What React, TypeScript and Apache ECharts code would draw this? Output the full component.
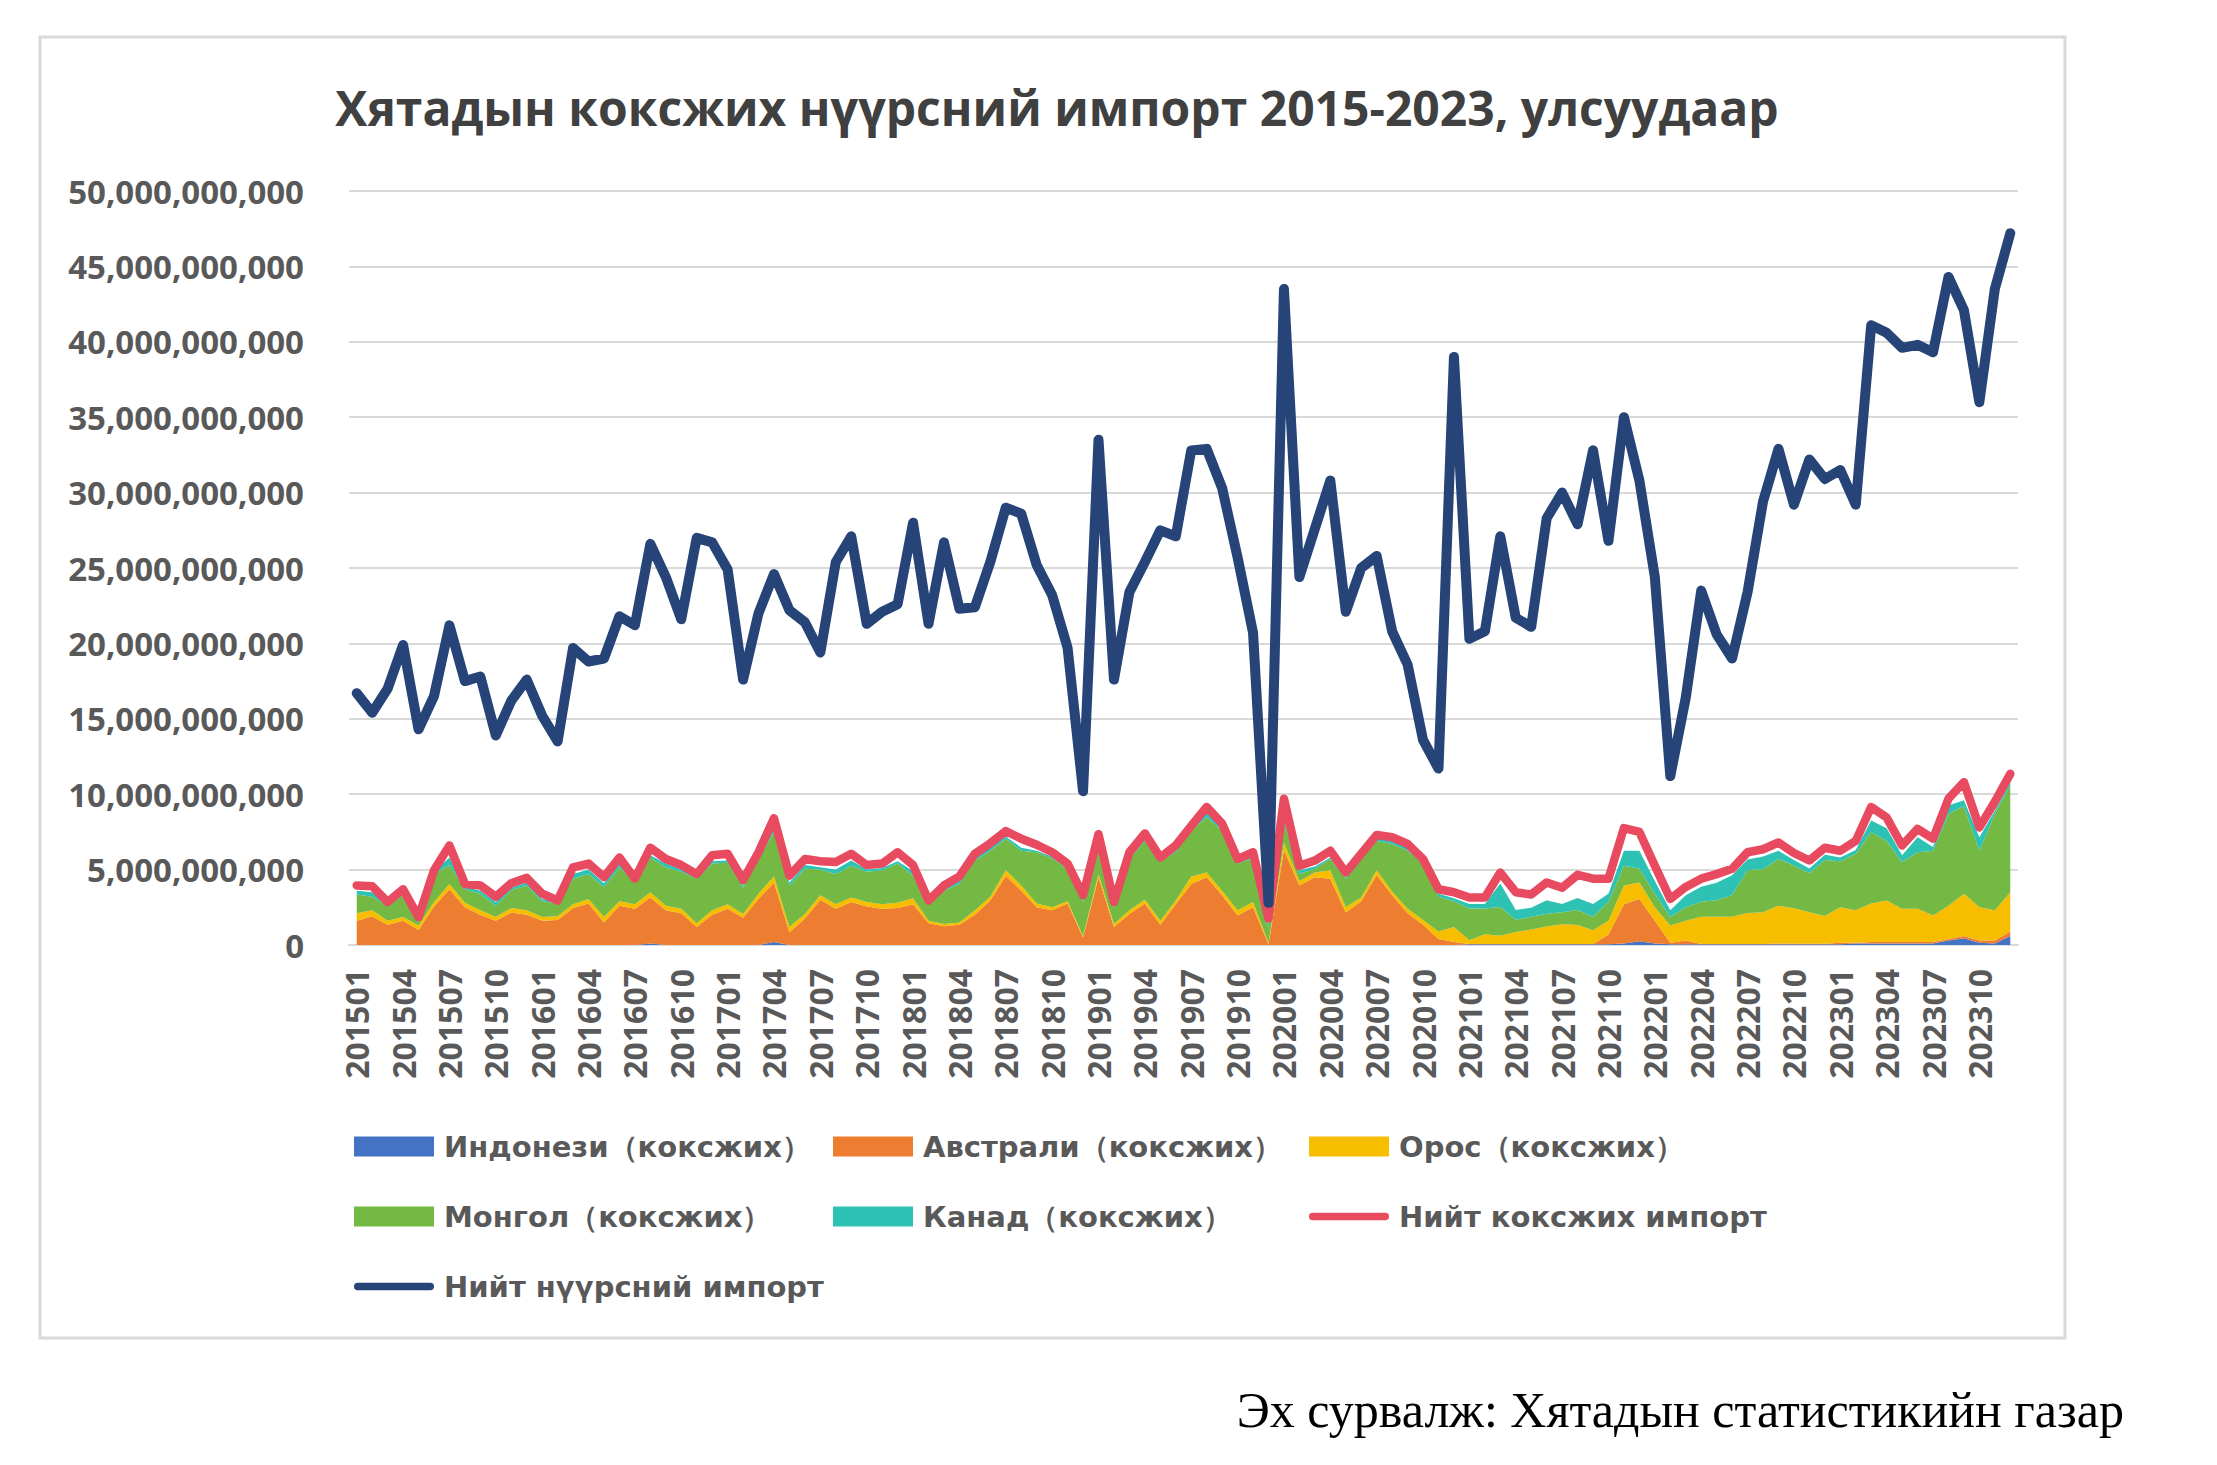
import React, { useEffect, useRef } from "react";
import * as echarts from "echarts";

// ---- data (values in billions of USD) ----
const B = 1e9;
const years = ["2015", "2016", "2017", "2018", "2019", "2020", "2021", "2022", "2023"];
const monthCodes = ["01", "02", "03", "04", "05", "06", "07", "08", "09", "10", "11", "12"];
const categories: string[] = years.flatMap((y) => monthCodes.map((m) => y + m));

const indonesia = [
  0, 0, 0, 0, 0, 0, 0, 0, 0, 0, 0, 0,
  0, 0, 0, 0, 0, 0, 0, 0.1, 0, 0, 0, 0,
  0, 0, 0, 0.2, 0, 0, 0, 0, 0, 0, 0, 0,
  0, 0, 0, 0, 0, 0, 0, 0, 0, 0, 0, 0,
  0, 0, 0, 0, 0, 0, 0, 0, 0, 0, 0, 0,
  0, 0, 0, 0, 0, 0, 0, 0, 0, 0, 0, 0,
  0.05, 0.05, 0.05, 0.05, 0.05, 0.05, 0.05, 0.05, 0.05, 0.05, 0.1, 0.25,
  0.1, 0.05, 0.05, 0.05, 0.05, 0.05, 0.05, 0.05, 0.05, 0.05, 0.05, 0.05,
  0.05, 0.1, 0.1, 0.1, 0.1, 0.1, 0.1, 0.3, 0.45, 0.15, 0.1, 0.6,
];
const australia = [
  1.6, 1.9, 1.35, 1.6, 1.0, 2.55, 3.7, 2.5, 2.0, 1.6, 2.15, 2.0,
  1.6, 1.65, 2.45, 2.75, 1.5, 2.6, 2.4, 3.05, 2.3, 2.1, 1.2, 2.0,
  2.4, 1.8, 3.05, 3.95, 0.85, 1.75, 3.0, 2.4, 2.85, 2.55, 2.4, 2.45,
  2.7, 1.45, 1.25, 1.35, 2.0, 2.95, 4.6, 3.6, 2.5, 2.3, 2.75, 0.5,
  4.5, 1.2, 2.05, 2.75, 1.35, 2.7, 4.05, 4.5, 3.3, 1.95, 2.5, 0.05,
  6.3, 3.95, 4.5, 4.4, 2.15, 2.9, 4.65, 3.3, 2.1, 1.35, 0.4, 0.2,
  0.02, 0.02, 0.02, 0.02, 0.02, 0.02, 0.02, 0.02, 0.02, 0.65, 2.6, 2.8,
  1.5, 0.1, 0.25, 0.02, 0.02, 0.02, 0.02, 0.02, 0.05, 0.03, 0.03, 0.03,
  0.1, 0.05, 0.1, 0.1, 0.1, 0.1, 0.1, 0.1, 0.15, 0.15, 0.2, 0.3,
];
const russia = [
  0.5, 0.4, 0.25, 0.25, 0.3, 0.3, 0.35, 0.3, 0.3, 0.25, 0.3, 0.3,
  0.25, 0.25, 0.25, 0.3, 0.35, 0.3, 0.3, 0.35, 0.3, 0.3, 0.25, 0.3,
  0.3, 0.25, 0.35, 0.4, 0.35, 0.3, 0.3, 0.3, 0.3, 0.3, 0.3, 0.35,
  0.4, 0.15, 0.15, 0.15, 0.3, 0.25, 0.35, 0.35, 0.25, 0.2, 0.15, 0.1,
  0.2, 0.2, 0.25, 0.25, 0.25, 0.25, 0.5, 0.3, 0.3, 0.35, 0.35, 0.1,
  0.5, 0.3, 0.3, 0.55, 0.35, 0.25, 0.3, 0.25, 0.3, 0.3, 0.5, 1.0,
  0.25, 0.65, 0.55, 0.8, 0.95, 1.15, 1.3, 1.25, 0.9, 0.9, 1.25, 1.1,
  0.9, 1.15, 1.3, 1.8, 1.8, 1.8, 2.05, 2.1, 2.5, 2.35, 2.1, 1.85,
  2.35, 2.15, 2.55, 2.75, 2.2, 2.2, 1.75, 2.2, 2.8, 2.2, 2.0, 2.6,
];
const mongolia = [
  1.25, 0.9, 1.0, 1.45, 0.15, 1.85, 1.25, 0.9, 1.1, 0.75, 1.2, 1.65,
  1.05, 0.85, 1.7, 1.65, 2.0, 2.25, 1.45, 2.3, 2.55, 2.45, 2.95, 3.1,
  2.75, 1.75, 2.3, 2.95, 2.75, 3.0, 1.7, 2.0, 2.1, 2.0, 2.25, 2.6,
  1.5, 1.1, 2.2, 2.55, 3.3, 3.05, 2.1, 2.3, 3.4, 3.25, 2.15, 2.3,
  1.6, 1.1, 3.4, 3.9, 3.95, 3.2, 3.05, 3.65, 4.0, 3.1, 2.9, 1.0,
  1.4, 0.45, 0.25, 0.75, 1.9, 2.5, 1.95, 3.15, 3.85, 3.7, 2.3, 1.7,
  2.1, 1.7, 1.9, 0.8, 0.85, 0.85, 0.8, 1.0, 0.9, 1.25, 1.3, 0.9,
  0.9, 0.55, 0.9, 1.0, 1.1, 1.45, 2.85, 2.85, 3.1, 2.85, 2.6, 3.7,
  3.05, 3.75, 4.75, 3.95, 3.1, 3.75, 4.3, 6.1, 5.8, 3.75, 6.4, 7.1,
];
const canada = [
  0.25, 0.3, 0.1, 0.15, 0.15, 0.15, 0.5, 0.15, 0.2, 0.25, 0.15, 0.2,
  0.15, 0.1, 0.3, 0.3, 0.25, 0.25, 0.15, 0.15, 0.25, 0.15, 0.1, 0.15,
  0.15, 0.15, 0.25, 0.3, 0.2, 0.25, 0.15, 0.3, 0.35, 0.15, 0.15, 0.15,
  0.3, 0.05, 0.1, 0.2, 0.15, 0.25, 0.15, 0.2, 0.1, 0.1, 0.1, 0.15,
  0.1, 0.1, 0.1, 0.25, 0.1, 0.1, 0.1, 0.35, 0.1, 0.1, 0.2, 0.25,
  0.4, 0.25, 0.15, 0.1, 0.1, 0.15, 0.25, 0.2, 0.2, 0.15, 0.2, 0.2,
  0.3, 0.3, 1.55, 0.65, 0.6, 0.9, 0.55, 0.8, 0.85, 0.55, 1.0, 1.2,
  0.85, 0.45, 0.8, 1.0, 1.15, 1.3, 0.7, 0.85, 0.55, 0.35, 0.3, 0.35,
  0.25, 0.25, 0.75, 0.85, 0.45, 1.0, 0.25, 0.55, 0.4, 0.9, 0.2, 0.2,
];
const cokingTotal = [
  3.95, 3.9, 2.85, 3.7, 1.85, 4.95, 6.6, 4.05, 3.95, 3.2, 4.1, 4.45,
  3.4, 2.95, 5.15, 5.4, 4.5, 5.8, 4.4, 6.45, 5.7, 5.3, 4.7, 5.95,
  6.05, 4.3, 6.15, 8.4, 4.6, 5.7, 5.55, 5.5, 6.05, 5.3, 5.4, 6.15,
  5.3, 2.95, 3.95, 4.55, 6.05, 6.75, 7.55, 7.05, 6.65, 6.15, 5.4, 3.3,
  7.35, 2.85, 6.15, 7.4, 5.8, 6.6, 7.9, 9.15, 8.05, 5.7, 6.15, 1.75,
  9.7, 5.25, 5.6, 6.25, 4.8, 6.05, 7.3, 7.15, 6.7, 5.7, 3.7, 3.5,
  3.15, 3.15, 4.8, 3.5, 3.35, 4.15, 3.8, 4.65, 4.4, 4.4, 7.75, 7.5,
  5.25, 3.05, 3.85, 4.4, 4.7, 5.05, 6.15, 6.35, 6.8, 6.1, 5.6, 6.45,
  6.25, 6.9, 9.15, 8.45, 6.6, 7.7, 7.05, 9.7, 10.8, 7.8, 9.5, 11.35,
];
const coalTotal = [
  16.7, 15.4, 17.0, 19.9, 14.3, 16.5, 21.2, 17.5, 17.8, 13.9, 16.2, 17.6,
  15.2, 13.5, 19.7, 18.8, 19.0, 21.8, 21.2, 26.6, 24.4, 21.6, 27.0, 26.7,
  24.9, 17.6, 22.0, 24.6, 22.2, 21.4, 19.4, 25.4, 27.1, 21.3, 22.1, 22.6,
  28.0, 21.3, 26.7, 22.3, 22.4, 25.4, 29.0, 28.6, 25.2, 23.2, 19.7, 10.2,
  33.5, 17.6, 23.4, 25.4, 27.5, 27.1, 32.8, 32.9, 30.3, 25.7, 20.7, 2.8,
  43.5, 24.4, 27.6, 30.8, 22.1, 25.0, 25.8, 20.8, 18.6, 13.6, 11.7, 39.0,
  20.3, 20.8, 27.1, 21.7, 21.1, 28.3, 30.0, 27.9, 32.8, 26.8, 35.0, 30.8,
  24.4, 11.2, 16.4, 23.5, 20.6, 19.0, 23.4, 29.4, 32.9, 29.2, 32.2, 30.9,
  31.5, 29.2, 41.1, 40.6, 39.6, 39.8, 39.3, 44.3, 42.1, 36.0, 43.5, 47.2,
];
const yTicks = { min: 0, max: 50, step: 5 };

const titleText = "Хятадын коксжих нүүрсний импорт 2015-2023, улсуудаар";
const sourceText = "Эх сурвалж: Хятадын статистикийн газар";
const names = {
  idn: "Индонези（коксжих）",
  aus: "Австрали（коксжих）",
  rus: "Орос（коксжих）",
  mng: "Монгол（коксжих）",
  can: "Канад（коксжих）",
  coke: "Нийт коксжих импорт",
  coal: "Нийт нүүрсний импорт",
};

const colors = {
  idn: "#4472C4",
  aus: "#ED7D31",
  rus: "#F7BE00",
  mng: "#74B944",
  can: "#2EC2B4",
  coke: "#E84A5F",
  coal: "#264478",
};

const W = 2217;
const H = 1465;
const AXIS_FONT = '"Open Sans", sans-serif';
const LEGEND_FONT = '"DejaVu Sans", Verdana, sans-serif';
const LINE_ICON = "path://M4,0 L82,0 A4,4 0 0 1 82,8 L4,8 A4,4 0 0 1 4,0 Z";

function areaSeries(name: string, values: number[], color: string) {
  return {
    name,
    type: "line",
    stack: "coking",
    data: values.map((v) => v * B),
    symbol: "none",
    showSymbol: false,
    color,
    itemStyle: { color },
    lineStyle: { width: 0, opacity: 0 },
    areaStyle: { color, opacity: 1 },
    emphasis: { disabled: true },
    silent: true,
  };
}

function legendBlock(left: number, data: any[]) {
  return {
    orient: "vertical",
    left,
    top: 1127,
    itemWidth: 80,
    itemHeight: 20,
    itemGap: 41,
    selectedMode: false,
    symbolKeepAspect: true,
    itemStyle: { borderWidth: 0 },
    textStyle: {
      fontFamily: LEGEND_FONT,
      fontWeight: "bold",
      fontSize: 29,
      color: "#595959",
      padding: [0, 0, 0, 5],
    },
    data,
  };
}

export default function App() {
  const ref = useRef<HTMLDivElement>(null);

  useEffect(() => {
    document.body.style.margin = "0";
    const chart = echarts.init(ref.current as HTMLDivElement, null, {
      renderer: "svg",
      width: W,
      height: H,
    });
    const option: any = {
      animation: false,
      backgroundColor: "#ffffff",
      title: {
        text: titleText,
        left: 1052,
        top: 102,
        textAlign: "center",
        textVerticalAlign: "middle",
        textStyle: {
          fontFamily: '"Open Sans", sans-serif',
          fontWeight: "bold",
          fontSize: 48,
          color: "#404040",
        },
      },
      graphic: [
        {
          type: "rect",
          shape: { x: 40, y: 37, width: 2025, height: 1301 },
          style: { fill: "none", stroke: "#d9d9d9", lineWidth: 3 },
          silent: true,
          z: -10,
        },
        {
          type: "text",
          x: 2124,
          y: 1410,
          style: {
            text: sourceText,
            fill: "#000000",
            font: '50px "Liberation Serif", "Times New Roman", serif',
            textAlign: "right",
            textVerticalAlign: "middle",
          },
          silent: true,
        },
      ],
      legend: [
        legendBlock(349, [
          { name: names.idn, icon: "rect" },
          { name: names.mng, icon: "rect" },
          { name: names.coal, icon: LINE_ICON },
        ]),
        legendBlock(828, [
          { name: names.aus, icon: "rect" },
          { name: names.can, icon: "rect" },
        ]),
        legendBlock(1304, [
          { name: names.rus, icon: "rect" },
          { name: names.coke, icon: LINE_ICON },
        ]),
      ],
      grid: { left: 349, top: 191, width: 1669, height: 754, containLabel: false },
      xAxis: {
        type: "category",
        data: categories,
        boundaryGap: true,
        axisLine: { show: true, lineStyle: { color: "#d9d9d9", width: 2 } },
        axisTick: { show: false },
        axisLabel: {
          interval: 2,
          rotate: 90,
          margin: 24,
          fontFamily: AXIS_FONT,
          fontWeight: "bold",
          fontSize: 32,
          color: "#595959",
        },
      },
      yAxis: {
        type: "value",
        min: yTicks.min * B,
        max: yTicks.max * B,
        interval: yTicks.step * B,
        axisLine: { show: false },
        axisTick: { show: false },
        splitLine: { lineStyle: { color: "#d9d9d9", width: 2 } },
        axisLabel: {
          margin: 45,
          fontFamily: AXIS_FONT,
          fontWeight: "bold",
          fontSize: 33,
          color: "#595959",
          formatter: (v: number) => v.toLocaleString("en-US"),
        },
      },
      series: [
        areaSeries(names.idn, indonesia, colors.idn),
        areaSeries(names.aus, australia, colors.aus),
        areaSeries(names.rus, russia, colors.rus),
        areaSeries(names.mng, mongolia, colors.mng),
        areaSeries(names.can, canada, colors.can),
        {
          name: names.coke,
          type: "line",
          data: cokingTotal.map((v) => v * B),
          symbol: "none",
          showSymbol: false,
          color: colors.coke,
          itemStyle: { color: colors.coke },
          lineStyle: { color: colors.coke, width: 8.5, cap: "round", join: "round" },
          emphasis: { disabled: true },
          silent: true,
          z: 3,
        },
        {
          name: names.coal,
          type: "line",
          data: coalTotal.map((v) => v * B),
          symbol: "none",
          showSymbol: false,
          color: colors.coal,
          itemStyle: { color: colors.coal },
          lineStyle: { color: colors.coal, width: 10, cap: "round", join: "round" },
          emphasis: { disabled: true },
          silent: true,
          z: 4,
        },
      ],
    };
    chart.setOption(option);
    return () => {
      chart.dispose();
    };
  }, []);

  return (
    <div
      ref={ref}
      style={{ position: "absolute", left: 0, top: 0, width: W, height: H, background: "#fff" }}
    />
  );
}
